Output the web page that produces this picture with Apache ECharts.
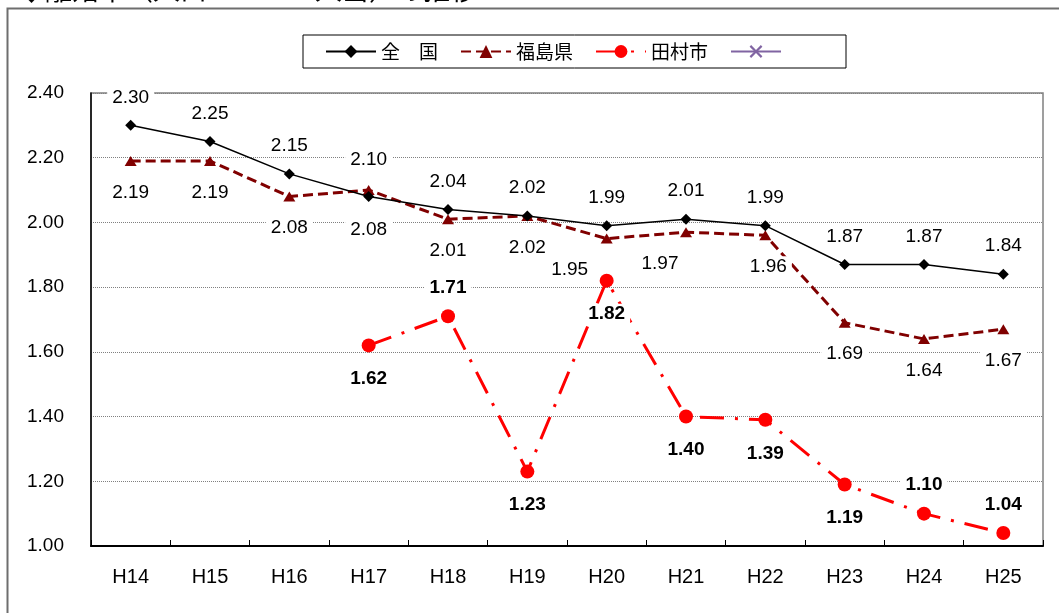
<!DOCTYPE html>
<html>
<head>
<meta charset="utf-8">
<script src="https://cdn.jsdelivr.net/npm/echarts@6/dist/echarts.min.js"></script>
<style>
  html, body { margin: 0; padding: 0; background: #fff; }
  #chart { width: 1059px; height: 613px; }
</style>
</head>
<body>
<div id="chart"></div>
<script>
// 離婚率（人口1000人当）の推移
const years = ['H14', 'H15', 'H16', 'H17', 'H18', 'H19', 'H20', 'H21', 'H22', 'H23', 'H24', 'H25'];
const national = [2.30, 2.25, 2.15, 2.08, 2.04, 2.02, 1.99, 2.01, 1.99, 1.87, 1.87, 1.84];
const fukushima = [2.19, 2.19, 2.08, 2.10, 2.01, 2.02, 1.95, 1.97, 1.96, 1.69, 1.64, 1.67];
const tamura = [null, null, null, 1.62, 1.71, 1.23, 1.82, 1.40, 1.39, 1.19, 1.10, 1.04];
const yTicks = { min: 1.0, max: 2.4, step: 0.2 };

// label placement (which side of the marker, sideways nudge)
const tamuraLabelSide = [null, null, null, 'bottom', 'top', 'bottom', 'bottom', 'bottom', 'bottom', 'bottom', 'top', 'top'];
const fukushimaLabelNudge = [0, 0, 0, 0, 0, 0, -37, -26, 3, 0, 0, 0];

const NUM_FONT = "'Liberation Sans', Arial, sans-serif";
const JP_FONT = "'Noto Sans CJK JP', sans-serif";
const labelBase = {
  show: true,
  fontFamily: NUM_FONT,
  fontSize: 19,
  color: '#000',
  backgroundColor: '#fff',
  padding: [1, 5],
  formatter: p => p.value == null ? '' : Number(p.value).toFixed(2)
};

function sideLabel(side, topGap, bottomGap, extra) {
  return Object.assign({ position: side, distance: side === 'top' ? topGap : bottomGap }, extra || {});
}

const nationalData = national.map((v, i) => ({
  value: v,
  label: sideLabel(v >= fukushima[i] ? 'top' : 'bottom', 12, 17)
}));
const fukushimaData = fukushima.map((v, i) => ({
  value: v,
  label: sideLabel(v > national[i] ? 'top' : 'bottom', 15, 16, { offset: [fukushimaLabelNudge[i], 0] })
}));
const tamuraData = tamura.map((v, i) => v == null ? null : ({
  value: v,
  label: sideLabel(tamuraLabelSide[i], 11, 16)
}));

const xMark = 'path://M0,1.2 L1.2,0 L5,3.8 L8.8,0 L10,1.2 L6.2,5 L10,8.8 L8.8,10 L5,6.2 L1.2,10 L0,8.8 L3.8,5 Z';

const chart = echarts.init(document.getElementById('chart'), null, { renderer: 'canvas' });
chart.setOption({
  backgroundColor: '#fff',
  animation: false,
  graphic: [
    {
      type: 'rect', silent: true, z: -10,
      shape: { x: 7.5, y: 8.5, width: 1200, height: 800 },
      style: { fill: 'none', stroke: '#6e6e6e', lineWidth: 2 }
    },
    {
      type: 'text', silent: true,
      style: {
        x: 18, y: 3, text: '◆離婚率（人口１０００人当）の推移',
        fontFamily: JP_FONT, fontSize: 27, fill: '#000',
        textVerticalAlign: 'bottom'
      }
    }
  ],
  legend: {
    left: 303, top: 35,
    padding: [7, 22, 7, 22],
    itemWidth: 50, itemHeight: 16, itemGap: 22,
    borderColor: '#000', borderWidth: 1,
    backgroundColor: '#fff',
    textStyle: { fontFamily: JP_FONT, fontSize: 19, color: '#000' },
    data: ['全　国', '福島県', '田村市', '　　']
  },
  grid: {
    left: 91, right: 16, top: 93, bottom: 67,
    show: true, borderColor: '#808080', borderWidth: 1.5, backgroundColor: '#fff'
  },
  xAxis: {
    type: 'category',
    data: years,
    boundaryGap: true,
    axisLine: { lineStyle: { color: '#000', width: 2 } },
    axisTick: { show: true, inside: true, length: 6, lineStyle: { color: '#000', width: 1 } },
    axisLabel: { fontFamily: NUM_FONT, fontSize: 20, color: '#000', margin: 21 }
  },
  yAxis: {
    type: 'value',
    min: yTicks.min, max: yTicks.max, interval: yTicks.step,
    axisLine: { show: true, lineStyle: { color: '#000', width: 1.5 } },
    axisTick: { show: false },
    axisLabel: {
      fontFamily: NUM_FONT, fontSize: 19, color: '#000', margin: 27,
      formatter: v => v.toFixed(2)
    },
    splitLine: { show: true, lineStyle: { color: '#808080', type: [1, 1], width: 1 } }
  },
  series: [
    {
      name: '全　国', type: 'line', z: 3,
      data: nationalData,
      symbol: 'diamond', symbolSize: 11,
      itemStyle: { color: '#000' },
      lineStyle: { color: '#000', width: 1.5 },
      label: labelBase
    },
    {
      name: '福島県', type: 'line', z: 2,
      data: fukushimaData,
      symbol: 'triangle', symbolSize: [12, 10],
      itemStyle: { color: '#800000' },
      lineStyle: { color: '#800000', width: 3, type: [10, 5] },
      label: labelBase
    },
    {
      name: '田村市', type: 'line', z: 4,
      data: tamuraData,
      connectNulls: false,
      symbol: 'circle', symbolSize: 14,
      itemStyle: { color: '#ff0000' },
      lineStyle: { color: '#ff0000', width: 3, type: [24, 11, 3, 11] },
      label: Object.assign({}, labelBase, { fontWeight: 'bold' })
    },
    {
      name: '　　', type: 'line',
      data: years.map(() => null),
      symbol: xMark, symbolSize: 10,
      itemStyle: { color: '#8064a2' },
      lineStyle: { color: '#8064a2', width: 3 }
    }
  ]
});
</script>
</body>
</html>
